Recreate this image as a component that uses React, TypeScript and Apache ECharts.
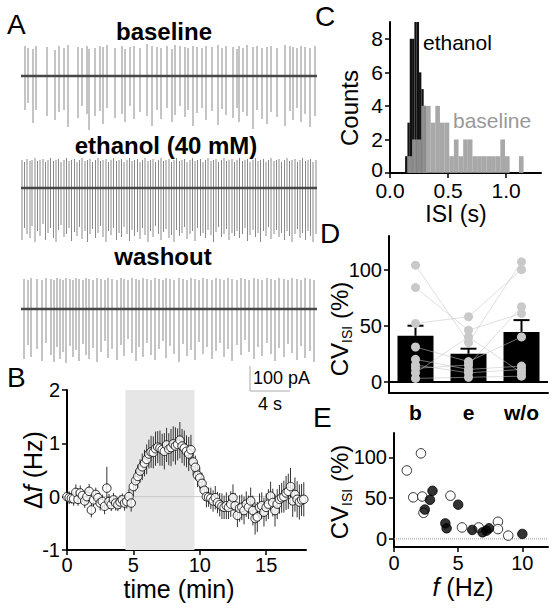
import { useEffect, useRef } from 'react';
import * as echarts from 'echarts';

const FONT = '"Liberation Sans", Arial, Helvetica, sans-serif';

// ---------- Panel A: spikes as [time (s), upward peak (pA), downward peak (pA)]
const TRACE_LENGTH_S = 29.6;
const baselineSpikes: number[][] = [
  [0.4,150,170],[0.7,140,135],[1.2,135,235],[1.5,150,170],[2.6,145,200],[3.4,130,220],[3.8,150,180],[4.3,140,170],[4.7,155,255],[5.7,145,210],
  [6.1,140,150],[6.6,150,190],[6.8,135,270],[7.4,140,200],[7.9,150,175],[8.2,145,240],[8.6,155,160],[9.4,140,210],[10.1,150,190],[10.4,135,230],
  [10.9,145,150],[11.3,150,215],[11.9,140,180],[12.6,160,200],[13.1,150,250],[13.6,145,170],[14.0,140,215],[14.6,150,160],[15.1,135,230],[15.4,155,195],
  [15.9,150,150],[16.4,145,205],[16.7,140,170],[17.2,150,250],[17.6,145,185],[18.1,140,160],[18.5,150,220],[19.1,145,175],[19.7,155,245],[20.1,140,165],
  [20.5,150,195],[21.2,145,210],[21.6,135,160],[21.8,150,230],[22.2,140,180],[22.6,155,200],[23.2,145,265],[23.6,150,170],[24.1,140,215],[24.6,145,240],
  [25.0,150,180],[25.6,140,205],[26.4,155,250],[26.9,150,175],[27.2,145,220],[27.6,140,160],[28.0,150,230],[28.4,145,190],[28.9,140,255],[29.4,150,200],
];
const ethanolSpikes: number[][] = [
  [0.1,140,260],[0.35,130,200],[0.6,145,230],[0.9,135,250],[1.1,140,190],[1.4,150,270],[1.65,135,215],[1.9,140,240],[2.2,145,180],[2.45,130,260],
  [2.7,140,225],[2.95,150,200],[3.25,135,250],[3.5,140,270],[3.75,145,210],[4.0,130,185],[4.3,140,245],[4.55,150,230],[4.8,135,200],[5.05,140,265],
  [5.35,145,220],[5.6,130,240],[5.85,140,195],[6.1,150,255],[6.4,135,215],[6.65,140,270],[6.9,145,230],[7.15,130,205],[7.45,140,250],[7.7,150,225],
  [7.95,135,190],[8.2,140,245],[8.5,145,270],[8.75,130,215],[9.0,140,235],[9.25,150,200],[9.55,135,260],[9.8,140,225],[10.05,145,245],[10.3,130,195],
  [10.6,140,230],[10.85,150,265],[11.1,135,210],[11.35,140,240],[11.65,145,220],[11.9,130,255],[12.15,140,200],[12.4,150,235],[12.7,135,270],[12.95,140,215],
  [13.2,145,245],[13.45,130,190],[13.75,140,230],[14.0,150,260],[14.25,135,220],[14.5,140,205],[14.8,145,250],[15.05,130,235],[15.3,140,270],[15.55,150,210],
  [15.85,135,240],[16.1,140,225],[16.35,145,195],[16.6,130,255],[16.9,140,230],[17.15,150,215],[17.4,135,265],[17.65,140,200],[17.95,145,240],[18.2,130,225],
  [18.45,140,250],[18.7,150,210],[19.0,135,235],[19.25,140,270],[19.5,145,220],[19.75,130,195],[20.05,140,245],[20.3,150,230],[20.55,135,205],[20.8,140,260],
  [21.1,145,225],[21.35,130,240],[21.6,140,215],[21.85,150,250],[22.15,135,230],[22.4,140,200],[22.65,145,265],[22.9,130,235],[23.2,140,210],[23.45,150,245],
  [23.7,135,225],[23.95,140,270],[24.25,145,215],[24.5,130,240],[24.75,140,195],[25.0,150,255],[25.3,135,230],[25.55,140,210],[25.8,145,245],[26.05,130,225],
  [26.35,140,260],[26.6,150,215],[26.85,135,240],[27.1,140,270],[27.4,145,230],[27.65,130,205],[27.9,140,250],[28.15,150,225],[28.45,135,260],[28.7,140,215],
  [28.95,145,240],[29.2,130,270],[29.5,140,230],
];
const washoutSpikes: number[][] = [
  [0.3,150,250],[0.7,145,180],[1.0,155,240],[1.6,150,200],[2.1,145,260],[2.5,155,170],[3.0,150,230],[3.3,145,265],[3.6,155,190],[3.9,150,250],
  [4.2,145,215],[4.5,155,270],[4.9,150,185],[5.2,145,240],[5.5,155,205],[5.8,150,260],[6.2,145,175],[6.5,155,230],[6.8,150,250],[7.2,145,195],
  [7.6,155,265],[8.0,150,215],[8.4,145,160],[8.7,155,245],[9.1,150,200],[9.6,145,255],[10.0,155,180],[10.3,150,235],[10.7,145,150],[11.1,155,220],
  [11.5,150,260],[11.8,145,190],[12.2,155,240],[12.6,150,170],[13.0,145,230],[13.4,155,255],[13.8,150,200],[14.2,145,160],[14.5,155,245],[14.9,150,185],
  [15.3,145,225],[15.8,155,265],[16.2,150,175],[16.6,145,235],[17.0,155,205],[17.4,150,255],[17.8,145,165],[18.2,155,225],[18.6,150,190],[19.1,145,250],
  [19.5,155,210],[19.9,150,170],[20.3,145,240],[20.7,155,200],[21.1,150,260],[21.6,145,180],[22.0,155,230],[22.4,150,155],[22.8,145,215],[23.3,155,250],
  [23.7,150,190],[24.1,145,235],[24.6,155,170],[25.0,150,225],[25.4,145,260],[25.8,155,195],[26.3,150,240],[26.7,145,175],[27.1,155,220],[27.6,150,255],
  [28.0,145,185],[28.4,155,245],[28.9,150,210],[29.3,145,265],
];

// ---------- Panel B: Δf (Hz) every 10 s, with error
const SAMPLE_INTERVAL_MIN = 1 / 6;
const deltaF = [
  0.00,-0.02,-0.03,-0.04,0.08,-0.05,0.07,0.02,-0.08,0.00,0.10,-0.25,-0.06,0.04,-0.02,-0.12,-0.09,-0.18,0.16,-0.09,-0.15,-0.06,-0.12,-0.15,-0.10,-0.06,-0.12,-0.09,
  0.00,-0.12,0.19,0.30,0.38,0.48,0.56,0.63,0.70,0.80,0.84,0.83,0.90,0.93,0.91,0.88,0.85,0.97,0.89,0.92,0.99,0.95,0.98,1.06,0.95,0.91,0.85,0.80,0.88,0.65,0.55,0.40,0.35,0.25,0.12,
  0.00,-0.01,-0.03,-0.08,-0.02,-0.11,-0.15,-0.18,-0.20,-0.17,-0.20,-0.14,-0.02,-0.17,-0.35,-0.22,-0.20,-0.26,-0.14,-0.20,-0.08,-0.26,-0.41,-0.38,-0.20,-0.17,-0.29,-0.20,-0.14,0.01,
  -0.11,-0.26,-0.14,-0.05,-0.02,0.00,0.07,0.10,0.19,-0.08,0.04,-0.05,-0.10,-0.06,-0.05,
];
const deltaFErr = [
  0.10,0.12,0.10,0.13,0.15,0.12,0.14,0.12,0.13,0.15,0.14,0.14,0.12,0.13,0.12,0.14,0.13,0.15,0.40,0.14,0.12,0.13,0.14,0.12,0.13,0.12,0.14,0.13,
  0.15,0.16,0.18,0.20,0.22,0.22,0.25,0.25,0.28,0.27,0.30,0.30,0.32,0.30,0.33,0.30,0.34,0.32,0.30,0.35,0.33,0.35,0.30,0.34,0.32,0.33,0.30,0.32,0.28,0.25,0.22,0.22,0.20,0.20,0.20,
  0.20,0.18,0.20,0.20,0.22,0.20,0.22,0.24,0.22,0.25,0.22,0.24,0.25,0.24,0.22,0.25,0.24,0.26,0.24,0.22,0.25,0.28,0.30,0.28,0.26,0.25,0.27,0.26,0.28,0.27,
  0.26,0.30,0.28,0.27,0.28,0.30,0.32,0.33,0.35,0.30,0.32,0.34,0.33,0.30,0.32,
];
const ethanolWindow = [4.4, 9.6];

// ---------- Panel C: ISI histograms
const ETHANOL_BIN_START = 0.13;
const ETHANOL_BIN_WIDTH = 0.02;
const ethanolIsiCounts = [1, 3, 8, 8, 9, 9, 6, 5, 4];
const BASELINE_BIN_START = 0.15;
const BASELINE_BIN_WIDTH = 0.04;
const baselineIsiCounts = [1, 2, 2, 4, 4, 3, 4, 3, 3, 1, 2, 1, 2, 2, 1, 1, 1, 1, 1, 1, 2, 1, 0, 0, 1];

// ---------- Panel D: CV of ISI (%)
const conditions = ['b', 'e', 'w/o'];
const cvMean = [41, 25, 44.5];
const cvSem = [9, 4.5, 10.5];
const cvCells = [
  [104, 35, 107],
  [84, 46, 61],
  [52, 58, 100],
  [31, 18, 40],
  [20, 11, 14],
  [15, 8, 11],
  [12, 15, 67],
  [8, 40, 8],
  [3, 4, 5],
];

// ---------- Panel E: CV vs firing frequency
const eBaselineCells = [[1.0, 84], [2.1, 105], [1.5, 51], [2.2, 52], [2.3, 32], [4.4, 53], [5.3, 14], [6.6, 14], [8.1, 21], [8.1, 12], [8.9, 4]];
const eEthanolCells = [[2.4, 36], [2.8, 48], [3.0, 59], [4.0, 19], [4.1, 13], [5.0, 42], [6.1, 11], [6.9, 8], [7.2, 10], [7.4, 13], [10.0, 6]];

// ---------------------------------------------------------------

const axisLine = { show: true, onZero: false, lineStyle: { color: '#000', width: 2 } };
const axisTick = (vals?: number[]) => ({
  show: true, length: 5, inside: false, lineStyle: { color: '#000', width: 1.5 },
  ...(vals ? { customValues: vals } : {}),
});
const axisLabel = (size: number, margin: number, vals?: number[], formatter?: any, extra: any = {}) => ({
  color: '#000', fontSize: size, fontFamily: FONT, margin,
  ...(vals ? { customValues: vals } : {}),
  ...(formatter ? { formatter } : {}),
  ...extra,
});

function buildOption(): any {
  const grids = [
    { left: 21, top: 42, width: 296, height: 90 },
    { left: 21, top: 154, width: 296, height: 90 },
    { left: 21, top: 275, width: 296, height: 90 },
    { left: 67, top: 390, width: 239, height: 160 },
    { left: 390, top: 22, width: 151, height: 151 },
    { left: 389, top: 236, width: 159, height: 157 },
    { left: 394, top: 433, width: 154, height: 114 },
  ].map((g) => ({ ...g, containLabel: false, outerBoundsMode: 'none', show: false }));

  const traceX = [0, 1, 2].map((i) => ({ type: 'value', gridIndex: i, min: 0, max: TRACE_LENGTH_S, show: false }));
  const traceY = [0, 1, 2].map((i) => ({ type: 'value', gridIndex: i, min: -280, max: 170, show: false }));

  const xAxis = [
    ...traceX,
    {
      type: 'value', gridIndex: 3, min: 0, max: 18, axisLine, splitLine: { show: false },
      axisTick: axisTick([0, 5, 10, 15]), axisLabel: axisLabel(20, 5, [0, 5, 10, 15]),
    },
    {
      type: 'value', gridIndex: 4, min: 0, max: 1.3, axisLine, splitLine: { show: false },
      axisTick: axisTick([0, 0.5, 1.0]),
      axisLabel: axisLabel(21, 8, [0, 0.5, 1.0], (v: number) => v.toFixed(1), { lineHeight: 18 }),
    },
    {
      type: 'category', gridIndex: 5, data: conditions, axisLine, axisTick: { show: false },
      axisLabel: { color: '#000', fontSize: 21, fontWeight: 'bold', fontFamily: FONT, margin: 9 },
    },
    {
      type: 'value', gridIndex: 6, min: 0, max: 12, axisLine, splitLine: { show: false },
      axisTick: axisTick([0, 5, 10]), axisLabel: axisLabel(20, 6, [0, 5, 10]),
    },
  ];
  const yAxis = [
    ...traceY,
    {
      type: 'value', gridIndex: 3, min: -1, max: 2, interval: 1, axisLine, splitLine: { show: false },
      axisTick: axisTick(), axisLabel: axisLabel(20, 7),
    },
    {
      type: 'value', gridIndex: 4, min: 0, max: 9, axisLine, splitLine: { show: false },
      axisTick: axisTick([0, 2, 4, 6, 8]),
      axisLabel: axisLabel(21, 7, [0, 2, 4, 6, 8], (v: number) => (v === 0 ? '{z|0}' : String(v)), {
        lineHeight: 16,
        rich: { z: { fontSize: 21, fontFamily: FONT, color: '#000', lineHeight: 16, padding: [0, 0, 7, 0] } },
      }),
    },
    {
      type: 'value', gridIndex: 5, min: -10, max: 130, axisLine, splitLine: { show: false },
      axisTick: axisTick([0, 50, 100]), axisLabel: axisLabel(20, 7, [0, 50, 100]),
    },
    {
      type: 'value', gridIndex: 6, min: -10, max: 130, axisLine, splitLine: { show: false },
      axisTick: axisTick([0, 50, 100]), axisLabel: axisLabel(20, 7, [0, 50, 100]),
    },
  ];

  const series: any[] = [];

  // Panel A traces
  [baselineSpikes, ethanolSpikes, washoutSpikes].forEach((spikes, idx) => {
    series.push({
      type: 'custom', xAxisIndex: idx, yAxisIndex: idx, data: spikes, silent: true, z: 2,
      encode: { x: 0, y: [1, 2] },
      renderItem: (_p: any, api: any) => {
        const t = api.value(0);
        const a = api.coord([t, api.value(1)]);
        const b = api.coord([t, -api.value(2)]);
        return { type: 'line', shape: { x1: a[0], y1: a[1], x2: b[0], y2: b[1] }, style: { stroke: '#8a8a8a', lineWidth: 1 } };
      },
    });
    series.push({
      type: 'line', xAxisIndex: idx, yAxisIndex: idx, data: [[0, 0], [TRACE_LENGTH_S, 0]],
      symbol: 'none', silent: true, z: 3, lineStyle: { color: '#474747', width: 2.6 },
    });
  });

  // Panel B
  const bTimes = deltaF.map((_, i) => i * SAMPLE_INTERVAL_MIN);
  series.push({
    type: 'line', xAxisIndex: 3, yAxisIndex: 3, data: [[0, 0], [18, 0]], symbol: 'none', silent: true, z: 1,
    lineStyle: { color: '#c8c8c8', width: 1 },
    markArea: {
      silent: true, itemStyle: { color: '#e6e6e6' },
      data: [[{ xAxis: ethanolWindow[0] }, { xAxis: ethanolWindow[1] }]],
    },
  });
  series.push({
    type: 'custom', xAxisIndex: 3, yAxisIndex: 3, silent: true, z: 3,
    data: deltaF.map((v, i) => [bTimes[i], v, deltaFErr[i] ?? 0]),
    encode: { x: 0, y: 1 },
    renderItem: (_p: any, api: any) => {
      const t = api.value(0), m = api.value(1), e = api.value(2);
      const a = api.coord([t, m + e]);
      const b = api.coord([t, m - e]);
      return { type: 'line', shape: { x1: a[0], y1: a[1], x2: b[0], y2: b[1] }, style: { stroke: '#333', lineWidth: 1 } };
    },
  });
  series.push({
    type: 'scatter', xAxisIndex: 3, yAxisIndex: 3, silent: true, z: 4, symbol: 'circle', symbolSize: 8.5,
    data: deltaF.map((v, i) => [bTimes[i], v]),
    itemStyle: { color: '#fff', borderColor: '#000', borderWidth: 1 },
  });

  // Panel C
  const histSeries = (start: number, width: number, counts: number[], color: string, opacity: number, z: number) => ({
    type: 'custom', xAxisIndex: 4, yAxisIndex: 4, silent: true, z,
    data: counts.map((c, i) => [start + i * width, start + (i + 1) * width, c]).filter((d) => d[2] > 0),
    encode: { x: [0, 1], y: 2 },
    renderItem: (_p: any, api: any) => {
      const p0 = api.coord([api.value(0), api.value(2)]);
      const p1 = api.coord([api.value(1), 0]);
      return {
        type: 'rect', shape: { x: p0[0], y: p0[1], width: p1[0] - p0[0], height: p1[1] - p0[1] },
        style: { fill: color, opacity },
      };
    },
  });
  series.push(histSeries(ETHANOL_BIN_START, ETHANOL_BIN_WIDTH, ethanolIsiCounts, '#111', 1, 2));
  series.push(histSeries(BASELINE_BIN_START, BASELINE_BIN_WIDTH, baselineIsiCounts, '#9c9c9c', 0.88, 3));

  // Panel D
  series.push({
    type: 'bar', xAxisIndex: 5, yAxisIndex: 5, data: cvMean, barWidth: 36, silent: true, z: 2,
    itemStyle: { color: '#000' },
    markLine: {
      silent: true, symbol: ['none', 'none'], label: { show: false },
      lineStyle: { color: '#000', width: 2, type: 'solid' }, data: [{ yAxis: 0 }],
    },
  });
  cvCells.forEach((cell) => {
    series.push({
      type: 'line', xAxisIndex: 5, yAxisIndex: 5, silent: true, z: 3, symbol: 'none',
      data: cell.map((v, ci) => [ci, v]),
      lineStyle: { color: '#c4c4c4', width: 1, opacity: 0.55 },
    });
  });
  series.push({
    type: 'custom', xAxisIndex: 5, yAxisIndex: 5, silent: true, z: 3,
    data: cvMean.map((m, i) => [i, m, cvSem[i]]),
    encode: { x: 0, y: 1 },
    renderItem: (_p: any, api: any) => {
      const i = api.value(0), m = api.value(1), s = api.value(2);
      const top = api.coord([i, m + s]);
      const base = api.coord([i, m]);
      return {
        type: 'group',
        children: [
          { type: 'line', shape: { x1: top[0], y1: top[1], x2: base[0], y2: base[1] }, style: { stroke: '#000', lineWidth: 2 } },
          { type: 'line', shape: { x1: top[0] - 8, y1: top[1], x2: top[0] + 8, y2: top[1] }, style: { stroke: '#000', lineWidth: 2 } },
        ],
      };
    },
  });
  const dPoints: number[][] = [];
  conditions.forEach((_, ci) => cvCells.forEach((cell) => dPoints.push([ci, cell[ci]])));
  series.push({
    type: 'scatter', xAxisIndex: 5, yAxisIndex: 5, silent: true, z: 5, symbolSize: 9,
    data: dPoints, itemStyle: { color: '#c9c9c9', opacity: 1 },
  });

  // Panel E
  series.push({
    type: 'line', xAxisIndex: 6, yAxisIndex: 6, data: [[0, 0], [12, 0]], symbol: 'none', silent: true, z: 1,
    lineStyle: { color: '#999', width: 1, type: 'dotted' },
  });
  series.push({
    type: 'scatter', xAxisIndex: 6, yAxisIndex: 6, silent: true, z: 4, symbolSize: 9.5,
    data: eBaselineCells, itemStyle: { color: '#fff', borderColor: '#000', borderWidth: 1 },
  });
  series.push({
    type: 'scatter', xAxisIndex: 6, yAxisIndex: 6, silent: true, z: 5, symbolSize: 9.5,
    data: eEthanolCells, itemStyle: { color: '#000', borderColor: '#000', borderWidth: 1 },
  });

  const txt = (text: string, x: number, y: number, size: number, extra: any = {}) => ({
    type: 'text', x, y, silent: true,
    style: {
      text, fontSize: size, fontFamily: FONT, fill: '#000',
      align: 'center', verticalAlign: 'middle', ...extra,
    },
  });
  const mkRich = (size: number) => ({
    n: { fontSize: size, fontFamily: FONT, fill: '#000', lineHeight: size + 6 },
    i: { fontSize: size, fontFamily: FONT, fill: '#000', lineHeight: size + 6, fontStyle: 'italic' },
    s: { fontSize: 14, fontFamily: FONT, fill: '#000', lineHeight: 14, verticalAlign: 'bottom' },
  });
  const richText = (text: string, x: number, y: number, size: number, rotate: boolean) => ({
    type: 'text', x, y, silent: true, rotation: rotate ? Math.PI / 2 : 0,
    style: { text, rich: mkRich(size), align: 'center', verticalAlign: 'middle', fontFamily: FONT, fontSize: size, fill: '#000' },
  });

  const graphic = [
    // panel letters
    txt('A', 7, 24, 28, { align: 'left' }),
    txt('B', 7, 377, 28, { align: 'left' }),
    txt('C', 315, 16, 28, { align: 'left' }),
    txt('D', 320, 233, 28, { align: 'left' }),
    txt('E', 313, 417, 28, { align: 'left' }),
    // panel A titles
    txt('baseline', 164, 31, 24, { fontWeight: 'bold' }),
    txt('ethanol (40 mM)', 166, 145, 24, { fontWeight: 'bold' }),
    txt('washout', 163, 256, 24, { fontWeight: 'bold' }),
    // scale bar
    { type: 'line', silent: true, shape: { x1: 250, y1: 366, x2: 250, y2: 391 }, style: { stroke: '#a8a8a8', lineWidth: 1 } },
    { type: 'line', silent: true, shape: { x1: 250, y1: 391, x2: 290, y2: 391 }, style: { stroke: '#a8a8a8', lineWidth: 1 } },
    txt('100 pA', 253, 378, 18, { align: 'left' }),
    txt('4 s', 270, 404, 18),
    // panel B
    txt('ethanol', 158, 398, 19),
    richText('{n|Δ}{i|f}{n| (Hz)}', 33, 470, 25, true),
    txt('time (min)', 179, 589, 25),
    // panel C
    txt('ethanol', 423, 42, 21, { align: 'left' }),
    txt('baseline', 453, 120, 21, { align: 'left', fill: '#999' }),
    richText('{n|Counts}', 349, 108, 24, true),
    txt('ISI (s)', 456, 214, 23),
    // panel D
    richText('{n|CV}{s|ISI}{n| (%)}', 339, 329, 24, true),
    // panel E
    richText('{n|CV}{s|ISI}{n| (%)}', 339, 492, 24, true),
    richText('{i|f}{n| (Hz)}', 463, 587, 25, false),
  ];

  return {
    animation: false,
    backgroundColor: '#fff',
    textStyle: { fontFamily: FONT },
    grid: grids,
    xAxis,
    yAxis,
    series,
    graphic: { elements: graphic },
  };
}

export default function App() {
  const ref = useRef<HTMLDivElement>(null);
  useEffect(() => {
    if (!ref.current) return;
    const chart = echarts.init(ref.current, null, { renderer: 'svg' });
    chart.setOption(buildOption());
    return () => chart.dispose();
  }, []);
  return (
    <div
      ref={ref}
      style={{ position: 'fixed', left: 0, top: 0, width: 556, height: 609, background: '#fff' }}
    />
  );
}
